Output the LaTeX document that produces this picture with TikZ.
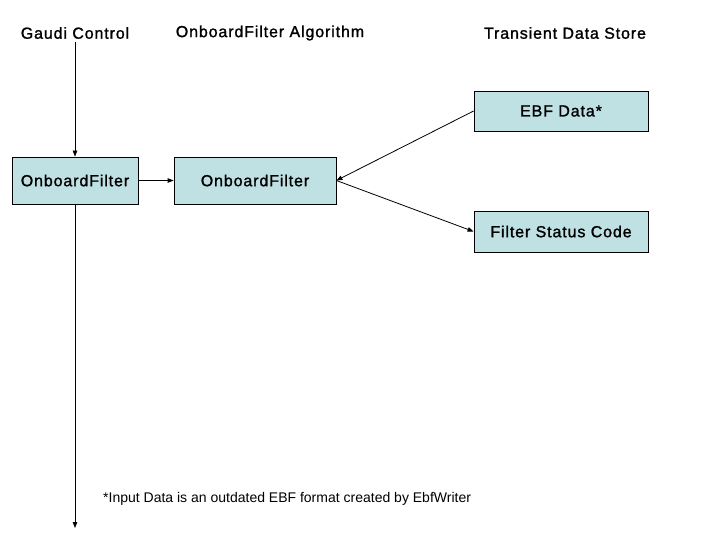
\documentclass[tikz,border=0pt]{standalone}
\usepackage{fontspec}
\setmainfont{Liberation Sans}
\newfontfamily\spaced[LetterSpace=5.5,FakeBold=1.3]{Liberation Sans}
\usetikzlibrary{arrows.meta}
\definecolor{boxfill}{RGB}{191,225,228}
\tikzset{
  box/.style={draw=black, fill=boxfill, line width=0.8pt, inner sep=0pt,
    font=\spaced\fontsize{16}{18}\selectfont},
  title/.style={inner sep=3pt, font=\spaced\fontsize{16}{18}\selectfont},
  conn/.style={draw=black, line width=0.8pt, -{Triangle[length=6pt,width=4.5pt]}},
}
\begin{document}
\begin{tikzpicture}[x=1pt,y=-1pt]
\useasboundingbox (0,0) rectangle (720,540);
\fill[white] (0,0) rectangle (720,540);
% titles
\node[title] (gc) at (75,33) {Gaudi Control};
\node[title] (oa) at (270,33) {OnboardFilter Algorithm};
\node[title] (ts) at (565,33) {Transient Data Store};
% boxes
\node[box, minimum width=126pt, minimum height=47pt] (b1) at (75,180.5) {OnboardFilter};
\node[box, minimum width=162pt, minimum height=47pt] (b2) at (255,180.5) {OnboardFilter};
\node[box, minimum width=174pt, minimum height=40pt] (ebf) at (561,111) {EBF Data*};
\node[box, minimum width=174pt, minimum height=41pt] (fsc) at (561,231.5) {Filter Status Code};
% footnote
\node[inner sep=0pt, anchor=west, font=\fontsize{14}{16}\selectfont] (note) at (103,498.5) {*Input Data is an outdated EBF format created by EbfWriter};
\coordinate (bottom) at (75,528);
% connectors
\draw[conn] (gc.south) -- (b1.north);
\draw[conn] (b1.east) -- (b2.west);
\draw[conn] (ebf.west) -- (b2.east);
\draw[conn] (b2.east) -- (fsc.west);
\draw[conn] (b1.south) -- (bottom);
\end{tikzpicture}
\end{document}
